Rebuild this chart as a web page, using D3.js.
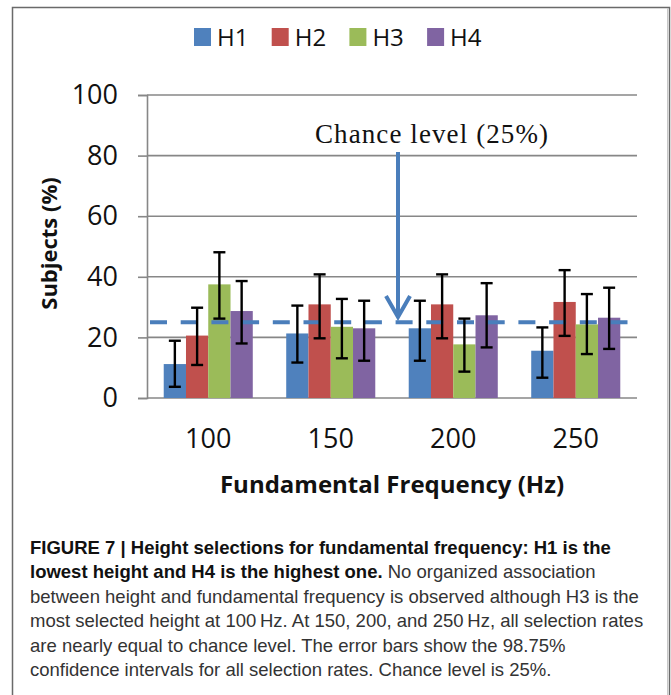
<!DOCTYPE html>
<html>
<head>
<meta charset="utf-8">
<script src="https://cdn.jsdelivr.net/npm/d3@7/dist/d3.min.js"></script>
<style>
  html, body { margin: 0; padding: 0; background: #fff; }
  svg { display: block; }
</style>
</head>
<body>
<svg id="chart" width="671" height="695"></svg>
<script>
const categories = ['100', '150', '200', '250'];
const series = ['H1', 'H2', 'H3', 'H4'];
const colors = ['#4F81BD', '#C0504D', '#9BBB59', '#8064A2'];

// bar heights (% subjects)
const h1 = [11.2, 21.3, 23.0, 15.6];
const h2 = [20.6, 30.9, 30.9, 31.7];
const h3 = [37.5, 23.5, 17.7, 24.3];
const h4 = [28.7, 23.0, 27.3, 26.5];

// 98.75% confidence interval ends
const h1Lo = [3.7, 11.7, 12.3, 6.7],  h1Hi = [18.9, 30.5, 32.1, 23.3];
const h2Lo = [10.9, 19.7, 19.7, 20.5], h2Hi = [29.8, 40.8, 40.8, 42.2];
const h3Lo = [26.2, 13.1, 8.7, 14.5],  h3Hi = [48.1, 32.7, 26.2, 34.3];
const h4Lo = [18.0, 12.3, 16.7, 16.2], h4Hi = [38.6, 32.1, 37.9, 36.4];

const yTicks = [0, 20, 40, 60, 80, 100];
const chanceLevel = 25;

const captionLines = [
  [['FIGURE 7 | Height selections for fundamental frequency: H1 is the', true]],
  [['lowest height and H4 is the highest one.', true], [' No organized association', false]],
  [['between height and fundamental frequency is observed although H3 is the', false]],
  [['most selected height at 100\u2009Hz. At 150, 200, and 250\u2009Hz, all selection rates', false]],
  [['are nearly equal to chance level. The error bars show the 98.75%', false]],
  [['confidence intervals for all selection rates. Chance level is 25%.', false]]
];

const vals = [h1, h2, h3, h4];
const los = [h1Lo, h2Lo, h3Lo, h4Lo];
const his = [h1Hi, h2Hi, h3Hi, h4Hi];

const rows = [];
categories.forEach((c, i) => {
  series.forEach((s, j) => {
    rows.push({ cat: c, ser: s, v: vals[j][i], lo: los[j][i], hi: his[j][i], color: colors[j] });
  });
});

const svg = d3.select('#chart');

// outer frame
svg.append('path')
  .attr('d', 'M12.5,700 V7.5 H669.5 V700')
  .attr('fill', 'none').attr('stroke', '#6a6a6a').attr('stroke-width', 1.5);
svg.append('line')
  .attr('x1', 667.5).attr('x2', 667.5).attr('y1', 8).attr('y2', 700)
  .attr('stroke', '#c8c8c8').attr('stroke-width', 1);

const plotL = 147, plotR = 637, plotT = 95, plotB = 398;

const x0 = d3.scaleBand().domain(categories).range([plotL, plotR])
  .paddingInner(0.273).paddingOuter(0.1365);
const x1 = d3.scaleBand().domain(series).range([0, x0.bandwidth()]);
const y = d3.scaleLinear().domain([0, 100]).range([plotB, plotT]);

// gridlines
svg.append('g').selectAll('line')
  .data(yTicks)
  .enter().append('line')
  .attr('x1', plotL).attr('x2', plotR)
  .attr('y1', d => y(d)).attr('y2', d => y(d))
  .attr('stroke', '#878787').attr('stroke-width', 1.6);

// y axis
const yAxis = svg.append('g')
  .attr('transform', `translate(${plotL},0)`)
  .call(d3.axisLeft(y).tickValues(yTicks).tickSize(9).tickPadding(20));
yAxis.select('.domain').attr('stroke', '#878787').attr('stroke-width', 1.6);
yAxis.selectAll('.tick line').attr('stroke', '#878787').attr('stroke-width', 1.6);
yAxis.selectAll('.tick text')
  .attr('font-family', '"Open Sans", sans-serif')
  .attr('font-size', 27).attr('fill', '#111');

// x axis labels
const xAxis = svg.append('g')
  .attr('transform', `translate(0,${plotB})`)
  .call(d3.axisBottom(x0).tickSize(0).tickPadding(31));
xAxis.select('.domain').remove();
xAxis.selectAll('.tick text')
  .attr('font-family', '"Open Sans", sans-serif')
  .attr('font-size', 27).attr('fill', '#111');

// bars
svg.append('g').selectAll('rect')
  .data(rows)
  .enter().append('rect')
  .attr('x', d => x0(d.cat) + x1(d.ser))
  .attr('y', d => y(d.v))
  .attr('width', x1.bandwidth())
  .attr('height', d => y(0) - y(d.v))
  .attr('fill', d => d.color);

// chance level dashed line
svg.append('line')
  .attr('x1', 150).attr('x2', 633)
  .attr('y1', y(chanceLevel)).attr('y2', y(chanceLevel))
  .attr('stroke', '#4A7EBB').attr('stroke-width', 4)
  .attr('stroke-dasharray', '17,13.7');

// error bars
const eb = svg.append('g').selectAll('g')
  .data(rows)
  .enter().append('g')
  .attr('transform', d => `translate(${x0(d.cat) + x1(d.ser) + x1.bandwidth() / 2},0)`);
eb.append('line')
  .attr('y1', d => y(d.lo)).attr('y2', d => y(d.hi))
  .attr('stroke', '#000').attr('stroke-width', 2.4);
eb.append('line')
  .attr('x1', -6).attr('x2', 6)
  .attr('y1', d => y(d.hi)).attr('y2', d => y(d.hi))
  .attr('stroke', '#000').attr('stroke-width', 2.4);
eb.append('line')
  .attr('x1', -6).attr('x2', 6)
  .attr('y1', d => y(d.lo)).attr('y2', d => y(d.lo))
  .attr('stroke', '#000').attr('stroke-width', 2.4);

// arrow + annotation
const ax = 398;
svg.append('line')
  .attr('x1', ax).attr('x2', ax).attr('y1', 152).attr('y2', 316)
  .attr('stroke', '#4A7EBB').attr('stroke-width', 4);
svg.append('path')
  .attr('d', `M${ax - 12},${296} L${ax},${317} L${ax + 12},${296}`)
  .attr('fill', 'none').attr('stroke', '#4A7EBB').attr('stroke-width', 4)
  .attr('stroke-linejoin', 'miter');
svg.append('text')
  .attr('x', 315).attr('y', 143)
  .attr('font-family', '"Liberation Serif", "Times New Roman", serif')
  .attr('font-size', 27).attr('fill', '#111')
  .attr('textLength', 233).attr('lengthAdjust', 'spacing')
  .text('Chance level (25%)');

// axis titles
svg.append('text')
  .attr('x', (plotL + plotR) / 2).attr('y', 493)
  .attr('text-anchor', 'middle')
  .attr('font-family', '"Open Sans", sans-serif').attr('font-weight', 700)
  .attr('font-size', 24).attr('fill', '#111')
  .text('Fundamental Frequency (Hz)');
svg.append('text')
  .attr('transform', `translate(57,${(plotT + plotB) / 2 - 3}) rotate(-90)`)
  .attr('text-anchor', 'middle')
  .attr('font-family', '"Open Sans", sans-serif').attr('font-weight', 700)
  .attr('font-size', 22).attr('fill', '#111')
  .text('Subjects (%)');

// legend
const lg = svg.append('g').selectAll('g')
  .data(series)
  .enter().append('g')
  .attr('transform', (d, i) => `translate(${194 + i * 77.7},28)`);
lg.append('rect').attr('width', 17).attr('height', 18)
  .attr('fill', (d, i) => colors[i]);
lg.append('text')
  .attr('x', 23).attr('y', 18)
  .attr('font-family', '"Open Sans", sans-serif')
  .attr('font-size', 24).attr('fill', '#111')
  .text(d => d);

// caption
const cap = svg.append('g');
captionLines.forEach((line, i) => {
  const t = cap.append('text')
    .attr('x', 30).attr('y', 554 + i * 24.4)
    .attr('font-family', '"Liberation Sans", Arial, sans-serif')
    .attr('font-size', 18.5);
  line.forEach(([txt, bold]) => {
    t.append('tspan')
      .attr('font-weight', bold ? 700 : 400)
      .attr('fill', bold ? '#111' : '#333')
      .text(txt);
  });
});
</script>
</body>
</html>
